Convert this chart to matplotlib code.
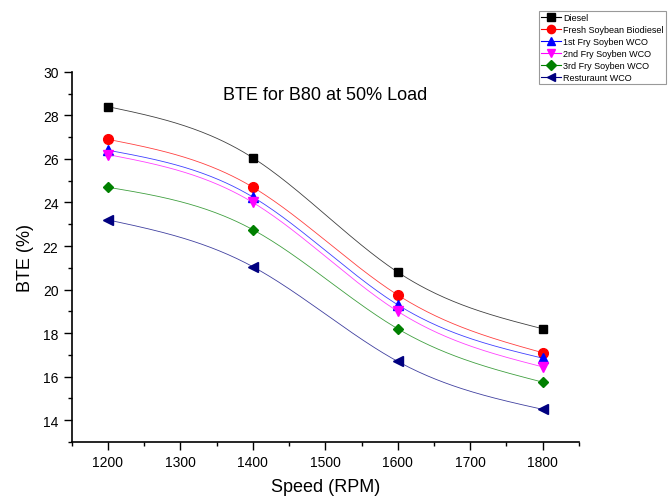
import numpy as np
import matplotlib.pyplot as plt
from matplotlib.ticker import MultipleLocator

plt.rcParams['font.family'] = ['Liberation Sans', 'DejaVu Sans']

# --- data ---
speed = [1200, 1400, 1600, 1800]
diesel = [28.4, 26.05, 20.8, 18.2]
fresh_soy = [26.9, 24.7, 19.75, 17.1]
fry1 = [26.4, 24.25, 19.3, 16.85]
fry2 = [26.2, 24.0, 19.0, 16.45]
fry3 = [24.7, 22.75, 18.2, 15.75]
restaurant = [23.2, 21.05, 16.7, 14.5]

labels = ["Diesel", "Fresh Soybean Biodiesel", "1st Fry Soyben WCO",
          "2nd Fry Soyben WCO", "3rd Fry Soyben WCO", "Resturaunt WCO"]
series = [diesel, fresh_soy, fry1, fry2, fry3, restaurant]
colors = ["black", "red", "blue", "magenta", "green", "navy"]
markers = ["s", "o", "^", "v", "D", "<"]
msizes = [6, 7, 7, 7, 5.5, 7]


# natural cubic spline, only used to draw the smooth connecting line
def spline(x, y, n=200):
    x = np.asarray(x, float)
    y = np.asarray(y, float)
    k = len(x)
    h = np.diff(x)
    A = np.zeros((k, k))
    b = np.zeros(k)
    A[0, 0] = A[-1, -1] = 1
    for i in range(1, k - 1):
        A[i, i - 1] = h[i - 1]
        A[i, i] = 2 * (h[i - 1] + h[i])
        A[i, i + 1] = h[i]
        b[i] = 3 * ((y[i + 1] - y[i]) / h[i] - (y[i] - y[i - 1]) / h[i - 1])
    c = np.linalg.solve(A, b)
    xs = np.linspace(x[0], x[-1], n)
    ys = np.empty_like(xs)
    for j, xv in enumerate(xs):
        i = min(np.searchsorted(x, xv, side="right") - 1, k - 2)
        d = xv - x[i]
        bi = (y[i + 1] - y[i]) / h[i] - h[i] * (2 * c[i] + c[i + 1]) / 3
        di = (c[i + 1] - c[i]) / (3 * h[i])
        ys[j] = y[i] + bi * d + c[i] * d ** 2 + di * d ** 3
    return xs, ys


fig = plt.figure(figsize=(6.7, 5.02), dpi=100)
ax = fig.add_axes([0.107, 0.1175, 0.757, 0.7375])

handles = []
for vals, lab, col, mk, ms in zip(series, labels, colors, markers, msizes):
    xs, ys = spline(speed, vals)
    ax.plot(xs, ys, color=col, lw=0.6, alpha=0.75)
    ax.plot(speed, vals, ls="none", marker=mk, ms=ms, color=col,
            markeredgecolor=col)
    h, = ax.plot([], [], color=col, lw=0.8, marker=mk, ms=ms, label=lab)
    handles.append(h)

ax.set_xlim(1150, 1850)
ax.set_ylim(13, 30)
ax.xaxis.set_major_locator(MultipleLocator(100))
ax.xaxis.set_minor_locator(MultipleLocator(50))
ax.yaxis.set_major_locator(MultipleLocator(2))
ax.yaxis.set_minor_locator(MultipleLocator(1))
ax.set_yticks(np.arange(14, 31, 2))
ax.tick_params(which="major", direction="out", length=6, width=1, labelsize=10)
ax.tick_params(which="minor", direction="out", length=3, width=1)
for s in ["top", "right"]:
    ax.spines[s].set_visible(False)
for s in ["left", "bottom"]:
    ax.spines[s].set_linewidth(1.2)

ax.set_xlabel("Speed (RPM)", fontsize=13, labelpad=6)
ax.set_ylabel("BTE (%)", fontsize=13, labelpad=6)
ax.text(0.5, 0.94, "BTE for B80 at 50% Load", transform=ax.transAxes,
        ha="center", va="center", fontsize=13)

leg = fig.legend(handles=handles, loc="upper left",
                 bbox_to_anchor=(539 / 670, 1 - 12 / 502),
                 fontsize=6.5, frameon=True, fancybox=False, markerscale=0.85,
                 handlelength=2.2, handletextpad=0.25, labelspacing=0.32,
                 borderpad=0.25, borderaxespad=0)
leg.get_frame().set_edgecolor("gray")
leg.get_frame().set_linewidth(0.8)

fig.savefig("out.png", dpi=100)
